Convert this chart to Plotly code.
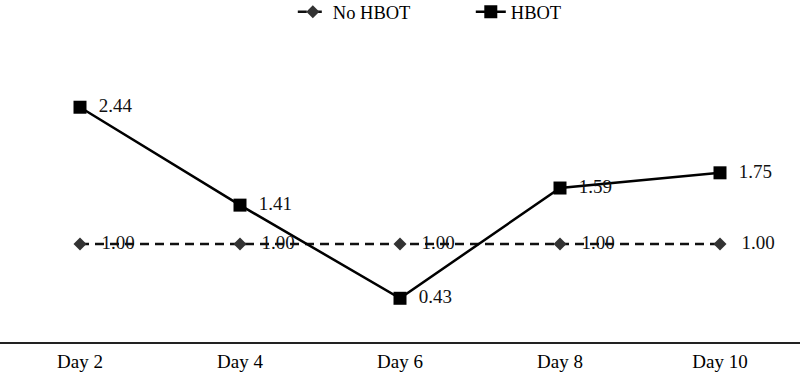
import plotly.graph_objects as go

days = ["Day 2", "Day 4", "Day 6", "Day 8", "Day 10"]
no_hbot = [1.00, 1.00, 1.00, 1.00, 1.00]
hbot = [2.44, 1.41, 0.43, 1.59, 1.75]

font = "Liberation Serif, Times New Roman, serif"

fig = go.Figure()
fig.add_trace(go.Scatter(
    x=days, y=no_hbot, name="No HBOT", mode="lines+markers+text",
    line=dict(color="#111111", width=2.5, dash="9px,6px"),
    marker=dict(symbol="diamond", size=10, color="#333333"),
    text=["   %.2f" % v for v in no_hbot], textposition="middle right",
    textfont=dict(family=font, size=19, color="#111111"),
))
fig.add_trace(go.Scatter(
    x=days, y=hbot, name="HBOT", mode="lines+markers+text",
    line=dict(color="#000000", width=2.5),
    marker=dict(symbol="square", size=13, color="#000000"),
    text=["  %.2f" % v for v in hbot], textposition="middle right",
    textfont=dict(family=font, size=19, color="#111111"),
))
fig.update_layout(
    width=800, height=374,
    margin=dict(l=0, r=0, t=54, b=32, autoexpand=False),
    paper_bgcolor="white", plot_bgcolor="white",
    font=dict(family=font, size=18, color="#000000"),
    showlegend=True,
    legend=dict(orientation="h", x=0.366, xanchor="left", y=1.145, yanchor="middle",
                font=dict(family=font, size=18.5), entrywidth=133, entrywidthmode="pixels"),
    xaxis=dict(type="category", showgrid=False, showline=True, linecolor="#222222",
               linewidth=2, ticks="", ticklabelstandoff=1,
               tickfont=dict(family=font, size=19), range=[-0.5, 4.5]),
    yaxis=dict(range=[-0.03, 3], visible=False, showgrid=False, zeroline=False),
)
fig.write_html("out.html")
